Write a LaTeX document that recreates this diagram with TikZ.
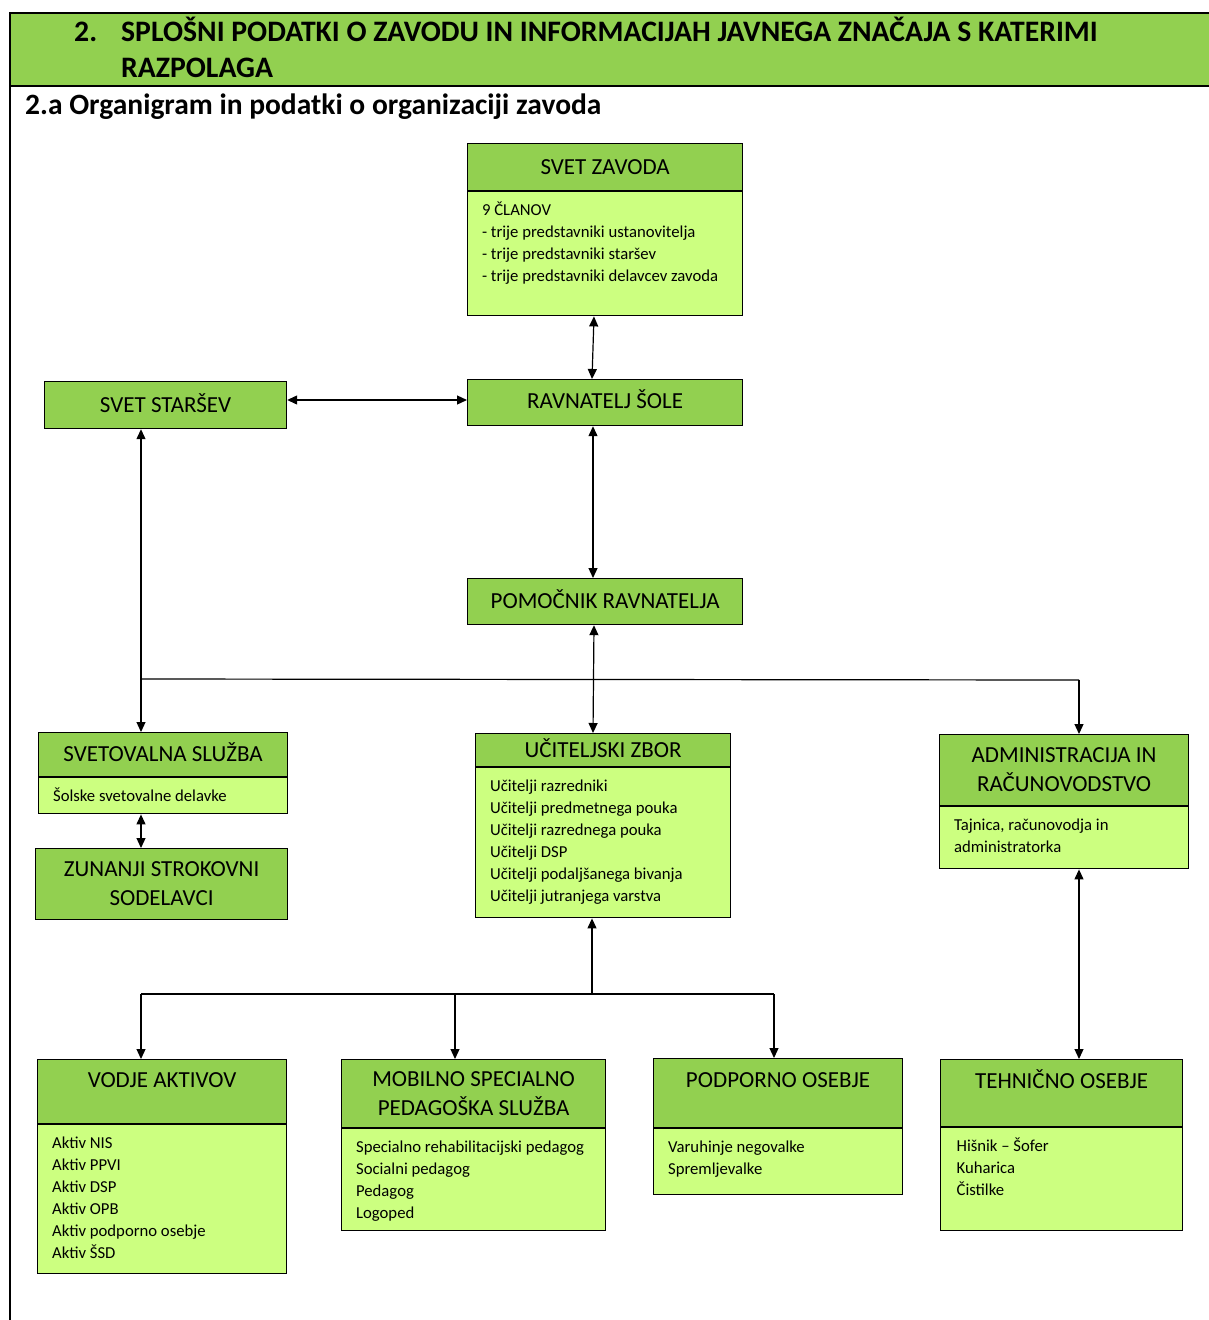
\documentclass[tikz,border=0pt]{standalone}
\usepackage{fontspec}
\setmainfont{Carlito}
\usetikzlibrary{arrows.meta}

\definecolor{hdgreen}{HTML}{92D050}
\definecolor{bdgreen}{HTML}{CCFF80}

\newcommand{\boxlines}[3]{\parbox[t][#2][t]{#1}{\strut #3}}

\tikzset{
  head/.style={draw, fill=hdgreen, line width=1.2pt, inner sep=0pt, anchor=north west, align=center, font=\fontsize{23}{29}\selectfont},
  oneline/.style={text height=14pt, text depth=0pt},
  body/.style={draw, fill=bdgreen, line width=1.2pt, inner xsep=14.5pt, inner ysep=8pt, anchor=north west, font=\fontsize{16.7}{22}\selectfont},
  pagehead/.style={anchor=base west, inner sep=0pt, font=\bfseries\fontsize{29.7}{36}\selectfont},
  link/.style={line width=1.2pt, {Triangle[length=10pt,width=9pt]}-{Triangle[length=10pt,width=9pt]}},
  arr/.style={line width=1.2pt, -{Triangle[length=10pt,width=9pt]}}
}

\begin{document}
\begin{tikzpicture}[x=1pt, y=-1pt]
\useasboundingbox (0,0) rectangle (1209,1320);

% page heading
\fill [hdgreen] (10,13) rectangle (1209,86);
\draw [line width=2pt] (1209,13) -- (10,13) -- (10,1320);
\draw [line width=1.5pt] (10,86) -- (1209,86);
\node [pagehead] (hnum) at (74,41.5) {2.};
\node [pagehead] (htitle) at (121,41.5) {SPLOŠNI PODATKI O ZAVODU IN INFORMACIJAH JAVNEGA ZNAČAJA S KATERIMI};
\node [pagehead] (htitleb) at (121,77.5) {RAZPOLAGA};
\node [pagehead, font=\bfseries\fontsize{29.5}{36}\selectfont] (hsub) at (25,114.5) {2.a Organigram in podatki o organizaciji zavoda};

% top
\node [head, oneline, minimum width=275pt, minimum height=47pt] (svz) at (467,143) {SVET ZAVODA};
\node [body, minimum width=275pt] (svzB) at (svz.south west) {\boxlines{246pt}{108pt}{9 ČLANOV\\- trije predstavniki ustanovitelja\\- trije predstavniki staršev\\- trije predstavniki delavcev zavoda}};
\node [head, oneline, minimum width=242pt, minimum height=47pt] (sst) at (44,381) {SVET STARŠEV};
\node [head, oneline, text depth=3pt, minimum width=275pt, minimum height=46pt] (rav) at (467,379) {RAVNATELJ ŠOLE};
\node [head, oneline, minimum width=275pt, minimum height=46pt] (pom) at (467,578) {POMOČNIK RAVNATELJA};

% middle row
\node [head, oneline, minimum width=249pt, minimum height=44pt] (svs) at (38,732) {SVETOVALNA SLUŽBA};
\node [body, minimum width=249pt] (svsB) at (svs.south west) {\boxlines{220pt}{20pt}{Šolske svetovalne delavke}};
\node [head, minimum width=252pt, minimum height=71pt] (zun) at (35,848) {ZUNANJI STROKOVNI\\SODELAVCI};
\node [head, oneline, minimum width=255pt, minimum height=33pt] (ucz) at (475,733) {UČITELJSKI ZBOR};
\node [body, minimum width=255pt] (uczB) at (ucz.south west) {\boxlines{226pt}{134pt}{Učitelji razredniki\\Učitelji predmetnega pouka\\Učitelji razrednega pouka\\Učitelji DSP\\Učitelji podaljšanega bivanja\\Učitelji jutranjega varstva}};
\node [head, minimum width=249pt, minimum height=71pt] (adm) at (939,734) {ADMINISTRACIJA IN\\RAČUNOVODSTVO};
\node [body, minimum width=249pt] (admB) at (adm.south west) {\boxlines{220pt}{46pt}{Tajnica, računovodja in\\administratorka}};

% bottom row
\node [head, oneline, text depth=22pt, minimum width=249pt, minimum height=64pt] (vod) at (37,1059) {VODJE AKTIVOV};
\node [body, minimum width=249pt] (vodB) at (vod.south west) {\boxlines{220pt}{133pt}{Aktiv NIS\\Aktiv PPVI\\Aktiv DSP\\Aktiv OPB\\Aktiv podporno osebje\\Aktiv ŠSD}};
\node [head, minimum width=264pt, minimum height=68pt] (mob) at (341,1059) {MOBILNO SPECIALNO\\PEDAGOŠKA SLUŽBA};
\node [body, minimum width=264pt] (mobB) at (mob.south west) {\boxlines{235pt}{86pt}{Specialno rehabilitacijski pedagog\\Socialni pedagog\\Pedagog\\Logoped}};
\node [head, oneline, text depth=25pt, minimum width=249pt, minimum height=69pt] (pod) at (653,1058) {PODPORNO OSEBJE};
\node [body, minimum width=249pt] (podB) at (pod.south west) {\boxlines{220pt}{50pt}{Varuhinje negovalke\\Spremljevalke}};
\node [head, oneline, text depth=23pt, minimum width=242pt, minimum height=67pt] (teh) at (940,1059) {TEHNIČNO OSEBJE};
\node [body, inner xsep=16pt, minimum width=242pt] (tehB) at (teh.south west) {\boxlines{210pt}{87pt}{Hišnik – Šofer\\Kuharica\\Čistilke}};

% connectors
\coordinate (trunk) at (141,679);
\coordinate (ra) at (1079,680);
\coordinate (lo) at (592,994);
\coordinate (ll) at (141,994);
\coordinate (lm) at (455,994);
\coordinate (lr) at (774,994);

\draw [link] (svzB.south -| 594,0) -- (rav.north -| 592,0);
\draw [link] (sst.east |- 0,400) -- (rav.west |- 0,400);
\draw [link] (rav.south -| 593,0) -- (pom.north -| 593,0);
\draw [link] (pom.south -| 594,0) -- (ucz.north -| 593,0);
\draw [link] (sst.south -| trunk) -- (svs.north -| trunk);
\draw [line width=1.2pt] (trunk) -- (ra);
\draw [arr] (ra) -- (adm.north -| ra);
\draw [link] (svsB.south -| trunk) -- (zun.north -| trunk);
\draw [link] (admB.south -| ra) -- (teh.north -| ra);
\draw [arr] (lo) -- (uczB.south -| lo);
\draw [line width=1.2pt] (ll) -- (lr);
\draw [arr] (ll) -- (vod.north -| ll);
\draw [arr] (lm) -- (mob.north -| lm);
\draw [arr] (lr) -- (pod.north -| lr);

\end{tikzpicture}
\end{document}
